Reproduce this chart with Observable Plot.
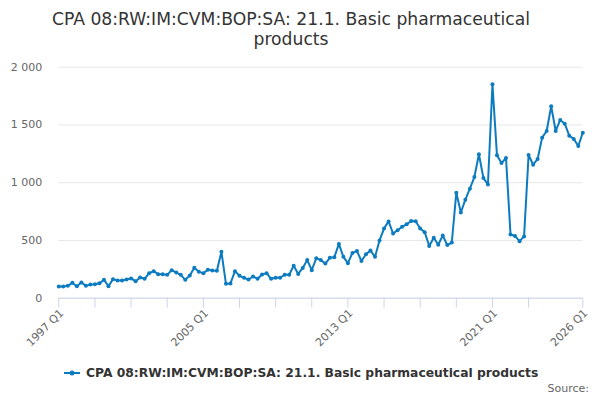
<!DOCTYPE html>
<html>
<head>
<meta charset="utf-8">
<script src="https://cdn.jsdelivr.net/npm/d3@7"></script>
<script src="https://cdn.jsdelivr.net/npm/@observablehq/plot@0.6"></script>
<style>
  html, body { margin: 0; padding: 0; background: #fff; }
  body { width: 600px; height: 400px; position: relative; overflow: hidden; font-family: "DejaVu Sans", sans-serif; }
  #title { position: absolute; left: 0; top: 0; width: 582px; padding-top: 9px; text-align: center; font-size: 17.2px; line-height: 20px; color: #333; }
  #chart { position: absolute; left: 0; top: 56px; }
  #legend { position: absolute; left: 0; top: 364px; width: 600px; height: 18px; }
  #legend .item { position: absolute; left: 64px; top: 0; height: 18px; display: flex; align-items: center; font-size: 12.3px; font-weight: bold; color: #333; white-space: nowrap; }
  #legend svg { margin-right: 6px; }
  #source { position: absolute; right: 11px; top: 382px; font-size: 11px; color: #666; }
</style>
</head>
<body>
<div id="title">CPA 08:RW:IM:CVM:BOP:SA: 21.1. Basic pharmaceutical<br>products</div>
<div id="chart"></div>
<div id="legend"><div class="item"><svg width="16" height="10"><line x1="0" y1="5" x2="16" y2="5" stroke="#0c7bc0" stroke-width="2"></line><circle cx="8" cy="5" r="2.5" fill="#0c7bc0"></circle></svg><span id="legendText"></span></div></div>
<div id="source">Source:</div>
<script>
const seriesName = "CPA 08:RW:IM:CVM:BOP:SA: 21.1. Basic pharmaceutical products";
const startYear = 1997;
// Quarterly values, 1997 Q1 .. 2026 Q1
const values = [
  101, 101, 107, 133,
  104, 136, 107, 118,
  121, 130, 159, 104,
  165, 153, 153, 162,
  171, 147, 179, 168,
  217, 234, 208, 208,
  202, 243, 222, 202,
  159, 197, 263, 228,
  217, 246, 240, 237,
  402, 126, 128, 234,
  194, 176, 162, 188,
  168, 205, 217, 168,
  177, 177, 203, 203,
  281, 210, 262, 330,
  243, 346, 330, 300,
  350, 355, 470, 358,
  303, 392, 408, 322,
  380, 412, 358, 500,
  603, 665, 560, 588,
  618, 640, 668, 666,
  604, 572, 452, 523,
  463, 543, 460, 482,
  914, 742, 853, 948,
  1049, 1246, 1040, 985,
  1852, 1237, 1170, 1214,
  552, 538, 494, 535,
  1240, 1156, 1205, 1390,
  1448, 1662, 1448, 1543,
  1511, 1407, 1379, 1318,
  1433
];
const periods = values.map((_, i) => `${startYear + Math.floor(i / 4)} Q${(i % 4) + 1}`);
const tickPeriods = ["1997 Q1","1999 Q1","2001 Q1","2003 Q1","2005 Q1","2007 Q1","2009 Q1","2011 Q1","2013 Q1","2015 Q1","2017 Q1","2019 Q1","2021 Q1","2023 Q1","2026 Q1"];
const tickLabels = ["1997 Q1", "2005 Q1", "2013 Q1", "2021 Q1", "2026 Q1"];
const yTicks = [0, 500, 1000, 1500, 2000];

const data = periods.map((p, i) => ({period: p, value: values[i]}));
const color = "#0c7bc0";
const fmt = d => d3.format(",")(d).replace(/,/g, " ");

document.getElementById("legendText").textContent = seriesName;

const chart = Plot.plot({
  width: 600,
  height: 300,
  marginLeft: 58.3,
  marginRight: 17.7,
  marginTop: 10.7,
  marginBottom: 58.3,
  style: {fontFamily: "DejaVu Sans", fontSize: "11px", color: "#666", background: "#fff"},
  x: {type: "point", domain: periods, padding: 0, label: null},
  y: {domain: [0, 2000], label: null},
  marks: [
    Plot.gridY(yTicks, {stroke: "#e6e6e6", strokeOpacity: 1, strokeWidth: 1}),
    Plot.axisY(yTicks, {tickSize: 0, tickPadding: 16.5, tickFormat: fmt, fill: "#666", fontSize: 11, label: null}),
    Plot.axisX(tickPeriods, {tickSize: 10, stroke: "#ccd6eb", strokeOpacity: 1, tickFormat: () => "", label: null}),
    Plot.ruleY([0], {stroke: "#ccd6eb", strokeWidth: 1}),
    Plot.text(tickLabels, {x: d => d, y: 0, rotate: -45, textAnchor: "end", dx: 3, dy: 13, fill: "#666", fontSize: 11}),
    Plot.line(data, {x: "period", y: "value", stroke: color, strokeWidth: 2}),
    Plot.dot(data, {x: "period", y: "value", r: 2, fill: color, stroke: "none"})
  ]
});
document.getElementById("chart").appendChild(chart);
</script>
</body>
</html>
